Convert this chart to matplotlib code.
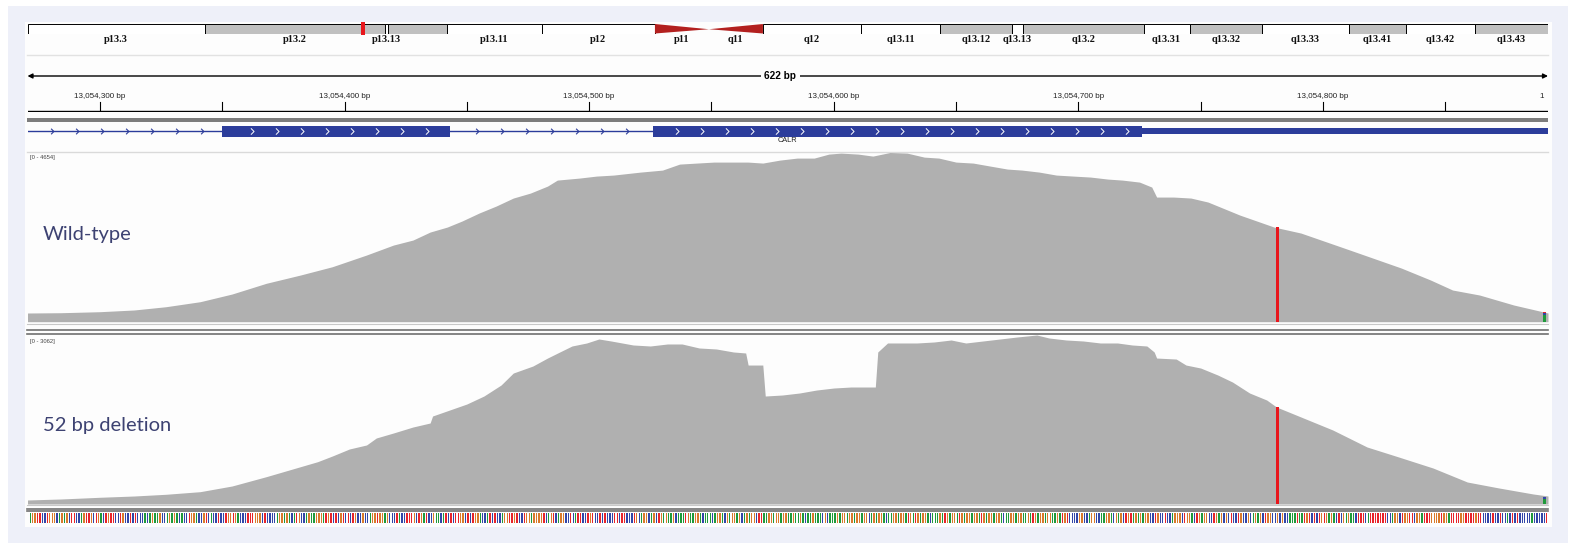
import numpy as np
import matplotlib
matplotlib.use("Agg")
import matplotlib.pyplot as plt
from matplotlib.patches import Rectangle, Polygon
from matplotlib.path import Path

W, H = 1576, 553
START = 13054000
VIEW = (START + 270.4, START + 892.0)

# chr19 cytobands (Mb)
band_names = ['p13.3', 'p13.2', 'p13.13', 'p13.12', 'p13.11', 'p12', 'p11', 'q11', 'q12',
              'q13.11', 'q13.12', 'q13.13', 'q13.2', 'q13.31', 'q13.32', 'q13.33',
              'q13.41', 'q13.42', 'q13.43']
band_start = [0.0, 6.9, 13.9, 14.0, 16.3, 20.0, 24.4, 26.5, 28.6, 32.4, 35.5, 38.3, 38.7,
              43.4, 45.2, 48.0, 51.4, 53.6, 56.3]
band_end = band_start[1:] + [59.13]
band_stain = ['gneg', 'gpos25', 'gneg', 'gpos25', 'gneg', 'gvar', 'acen', 'acen', 'gvar',
              'gneg', 'gpos25', 'gneg', 'gpos25', 'gneg', 'gpos25', 'gneg', 'gpos25',
              'gneg', 'gpos25']
hidden_labels = ['p13.12']
locus_mb = 13.054

# CALR gene model (offsets from START)
exon_starts = [350, 526]
exon_ends = [443, 726]
utr3 = (726, 1304)
intron_from = 205

# coverage, wild-type sample
wt_pos = [270, 284, 300, 314, 327, 341, 354, 368, 382, 395, 409, 420, 428, 435, 442, 448,
          455, 462, 469, 476, 483, 487, 496, 503, 510, 521, 530, 537, 544, 551, 565, 571,
          578, 585, 592, 598, 603, 610, 616, 623, 630, 637, 643, 650, 657, 664, 671, 677,
          684, 691, 698, 705, 712, 718, 725, 730, 732, 739, 746, 753, 759, 766, 773, 780,
          791, 811, 832, 844, 853, 864, 878, 892]
wt_depth = [239, 247, 275, 322, 412, 550, 761, 1056, 1284, 1512, 1834, 2108, 2246, 2466,
            2603, 2768, 2988, 3181, 3401, 3538, 3730, 3895, 3950, 4005, 4033, 4115, 4170,
            4335, 4363, 4390, 4390, 4363, 4445, 4500, 4500, 4610, 4637, 4610, 4555, 4654,
            4637, 4527, 4500, 4390, 4363, 4280, 4198, 4170, 4115, 4033, 4005, 3978, 3923,
            3895, 3840, 3703, 3428, 3428, 3401, 3291, 3126, 2933, 2768, 2603, 2438, 1971,
            1476, 1146, 871, 734, 459, 240]
wt_max = 4654

# coverage, 52 bp deletion sample
del_pos = [270, 284, 300, 314, 327, 341, 354, 368, 382, 389, 395, 402, 409, 413, 420, 428,
           435, 436, 443, 450, 457, 464, 469, 477, 483, 488, 493, 499, 504, 509, 518, 525,
           532, 538, 545, 552, 559, 564, 565, 571, 572, 579, 586, 593, 600, 607, 617, 618,
           622, 627, 634, 641, 648, 654, 661, 668, 675, 683, 688, 695, 702, 709, 716, 722,
           728, 731, 732, 740, 744, 750, 757, 763, 770, 777, 781, 791, 804, 818, 831, 845,
           859, 872, 886, 892]
del_depth = [72, 90, 121, 144, 175, 222, 324, 492, 672, 762, 864, 991, 1063, 1189, 1279,
             1387, 1459, 1585, 1693, 1801, 1945, 2143, 2359, 2485, 2629, 2738, 2846, 2900,
             2972, 2936, 2864, 2846, 2882, 2882, 2810, 2792, 2738, 2720, 2503, 2503, 1945,
             1963, 1999, 2053, 2089, 2107, 2107, 2738, 2900, 2900, 2900, 2918, 2954, 2900,
             2936, 2972, 3008, 3044, 2990, 2954, 2936, 2900, 2900, 2864, 2846, 2738, 2629,
             2611, 2503, 2449, 2323, 2197, 1999, 1873, 1747, 1567, 1333, 1027, 846, 648,
             396, 288, 180, 144]
del_max = 3062

# mismatch column and allele counts at the last visible base
mismatch_pos = 781
wt_mismatch = 2603
del_mismatch = 1747
end_pos = 890
end_bases = ['A', 'C', 'T']
wt_end_counts = [192, 55, 20]
del_end_counts = [90, 41, 0]

seq_lines = [
    "GAGGTTCCTGGGCAGAGCTTCCAGTTGCTGACTGTTCCTGCCTCTCCCACAGAAGCCAGA",
    "GACACCTGGACCGTCACCTCCTGGTGACCCTTTGGGCTCCCCAGGAGACATGCCAGAAGG",
    "GATGTCTCGTCTCTGCCGCCAGGTGGAGCCCTACCTTTGCTGATCCGAACATCTCTTGGC",
    "TCTGGACCATCTCCAGGTTGTCCTGGAGGGGTCAGTCAGGCCTCATTCCTGTCCTCTCCC",
    "TTCTTCCCTGCAGGCAGCTGAGAAGCAAATGAAGGACAAACAGGACGAGGAGCAGAGGCT",
    "TAAGGAGGAGGAAGAAGACAAGAAACGCAAAGAGGAGGAGGAGGCAGAGGACAAGGAGGA",
    "TGATGAGGACAAAGATGAGGATGAGGAGGATGAGGAGGACAAGGAGGAAGATGAGGAGGA",
    "AGATGTCCCCGGCCAGGCCAAGGACGAGCTGTAGAGAGGCCTGCCTCCAGGGCTGGACTG",
    "AGGCCTGAGCGCTCCTGCCGCAGAGCTGGCCGCGCCAAATAATGTCTCTGTGAGACTCGA",
    "GAACTTTCATTTTTTTCCAGGCTGGTTCGGATTTGGGGTGGATTTTGGTTTTGTTCCCCT",
    "CCTCCACTCTCCCCCACCCCCTCCCCGCCCTTTTTTTTTTTTTTTTTTAAACTGGTATTT",
    "TATCTTTGATTCTCCTTCAGCCCTCACCCCTGGTTCTCATCTTTCTTGATCAACATCTTT",
]
seq_first = 270

base_colors = {'A': '#1f9a3b', 'C': '#3346a8', 'G': '#d97a2b', 'T': '#e8242b'}
GENE = '#2c3d9b'
COV = '#b0b0b0'
RED = '#e8161c'

fig = plt.figure(figsize=(W / 100, H / 100), dpi=100)
fig.patch.set_facecolor('white')

# background / layout layer in pixel units
bg = fig.add_axes([0, 0, 1, 1])
bg.set_xlim(0, W)
bg.set_ylim(H, 0)
bg.axis('off')
bg.add_patch(Rectangle((8, 6), 1560, 537, color='#eef0f9', lw=0))
bg.add_patch(Rectangle((25, 22), 1527, 505, color='#fdfdfd', lw=0))
X0, X1 = 27.5, 1548
bg.plot([X0, X1], [55, 55], color='#e2e2e2', lw=1)
bg.add_patch(Rectangle((X0, 118.3), X1 - X0, 3.4, color='#7d7d7d', lw=0))
bg.plot([X0, X1], [152, 152], color='#dadada', lw=1)
for yy, col, lw in [(323.5, '#c8c8c8', 0.8), (330, '#707070', 1.2), (334, '#707070', 1.2),
                    (505, '#c8c8c8', 0.8), (508.5, '#707070', 1.2), (511, '#707070', 1.2)]:
    bg.plot([X0, X1], [yy, yy], color=col, lw=lw)


def px_axes(y0, y1, x0=X0, x1=X1):
    return fig.add_axes([x0 / W, 1 - y1 / H, (x1 - x0) / W, (y1 - y0) / H])


# ideogram
ideo = px_axes(24, 33.5)
ideo.set_xlim(0, 59.13)
ideo.set_ylim(0, 1)
ideo.axis('off')
for name, s, e, st in zip(band_names, band_start, band_end, band_stain):
    if st == 'acen':
        if name.startswith('p'):
            pts = [(s, 0), (s, 1), (e, 0.45)]
        else:
            pts = [(s, 0.45), (e, 1), (e, 0)]
        ideo.add_patch(Polygon(pts, closed=True, color='#b3201f', lw=0))
    else:
        fc = '#c0c0c0' if st == 'gpos25' else 'white'
        ideo.add_patch(Rectangle((s, 0), e - s, 1, fc=fc, ec='black', lw=0.7))
    if name not in hidden_labels:
        ideo.text((s + e) / 2, -0.6, name, ha='center', va='center', fontsize=7.5,
                  fontweight='bold', family='Liberation Serif', color='#111111', clip_on=False)
ideo.add_patch(Rectangle((locus_mb - 0.07, -0.2), 0.14, 1.4, color=RED, lw=0,
                         clip_on=False, zorder=5))

# ruler
rul = px_axes(60, 112)
rul.set_xlim(VIEW)
rul.set_ylim(112, 60)
rul.axis('off')
span = int(round(VIEW[1] - VIEW[0]))
rul.annotate('', xy=(VIEW[0], 76), xytext=(VIEW[1], 76),
             arrowprops=dict(arrowstyle='<|-|>', lw=1, color='black', mutation_scale=7,
                             shrinkA=0, shrinkB=0))
rul.text(sum(VIEW) / 2 - 3, 76, f'{span} bp', ha='center', va='center', fontsize=7.2,
         fontweight='bold', family='Liberation Sans',
         bbox=dict(fc='#fdfdfd', ec='none', pad=2.5))
for p in range(START + 300, START + 901, 50):
    if p < VIEW[1]:
        rul.plot([p, p], [102, 110], color='black', lw=0.8)
    if p % 100 == 0:
        label = f'{p:,} bp'
        if p < VIEW[1]:
            rul.text(p, 96, label, ha='center', va='center', fontsize=5.8,
                     family='Liberation Sans', color='#222222')
        else:
            # label runs past the right edge; only its first digit is visible
            rul.text(VIEW[1] - 1.5, 96, label[0], ha='right', va='center', fontsize=5.8,
                     family='Liberation Sans', color='#222222')
rul.plot(VIEW, [111, 111], color='black', lw=1)

# gene track
gene = px_axes(121, 143)
gene.set_xlim(VIEW)
gene.set_ylim(143, 121)
gene.axis('off')
gene.plot([START + intron_from, START + exon_starts[-1]], [131, 131], color=GENE, lw=1)
for s, e in zip(exon_starts, exon_ends):
    gene.add_patch(Rectangle((START + s, 126), e - s, 10.7, color=GENE, lw=0))
gene.add_patch(Rectangle((START + utr3[0], 128.2), utr3[1] - utr3[0], 6.2, color=GENE, lw=0))
chev = Path([(-0.5, 1), (0.5, 0), (-0.5, -1)], [Path.MOVETO, Path.LINETO, Path.LINETO])
marks = np.arange(START + 280.3, VIEW[1], 10.22)
in_exon = np.zeros(len(marks), bool)
near_exon = np.zeros(len(marks), bool)
for s, e in zip(exon_starts, exon_ends):
    in_exon |= (marks > START + s + 2) & (marks < START + e - 2)
    near_exon |= (marks > START + s - 2) & (marks < START + e + 2)
intron = (marks < START + exon_starts[-1] - 2) & ~near_exon
gene.plot(marks[intron], np.full(intron.sum(), 131), ls='none', marker=chev, ms=4,
          mfc='none', mec=GENE, mew=0.8)
gene.plot(marks[in_exon], np.full(in_exon.sum(), 131), ls='none', marker=chev, ms=4.5,
          mfc='none', mec='white', mew=0.7)
gene.text(sum(VIEW) / 2, 141, 'CALR', ha='center', va='center', fontsize=5.3,
          family='Liberation Sans', color='#222222')


# coverage tracks
def coverage(y0, y1, pos, depth, ymax, mm_depth, end_counts):
    ax = px_axes(y0, y1)
    ax.set_xlim(VIEW)
    ax.set_ylim(0, ymax)
    ax.axis('off')
    x = START + np.array(pos)
    ax.fill_between(x, depth, 0, color=COV, lw=0)
    ax.bar(START + mismatch_pos, mm_depth, width=1.2, align='edge', color=RED, lw=0)
    bottom = 0
    for b, c in zip(end_bases, end_counts):
        if c:
            ax.bar(START + end_pos, c, bottom=bottom, width=1.0, align='edge',
                   color=base_colors[b], lw=0)
            bottom += c
    return ax


coverage(152.5, 321.7, wt_pos, wt_depth, wt_max, wt_mismatch, wt_end_counts)
coverage(334, 504, del_pos, del_depth, del_max, del_mismatch, del_end_counts)

bg.text(30, 157, f'[0 - {wt_max}]', fontsize=4.2, va='center', color='#444444',
        family='Liberation Sans')
bg.text(30, 342, f'[0 - {del_max}]', fontsize=4.2, va='center', color='#444444',
        family='Liberation Sans')
bg.text(43, 240, 'Wild-type', fontsize=14.5, va='baseline', color='#3d4272', family='Lato')
bg.text(43, 431, '52 bp deletion', fontsize=14.5, va='baseline', color='#3d4272',
        family='Lato')

# reference sequence
seq = ''.join(seq_lines)
n = int(VIEW[1] - START) - seq_first + 1
seq = seq[:n]
sq = px_axes(513, 523)
sq.set_xlim(VIEW)
sq.set_ylim(0, 1)
sq.axis('off')
seq_x = START + seq_first + np.arange(len(seq)) + 0.5
sq.bar(seq_x, 1, width=0.55, color=[base_colors[b] for b in seq], lw=0)

fig.savefig('out.png', dpi=100, facecolor=fig.get_facecolor())
